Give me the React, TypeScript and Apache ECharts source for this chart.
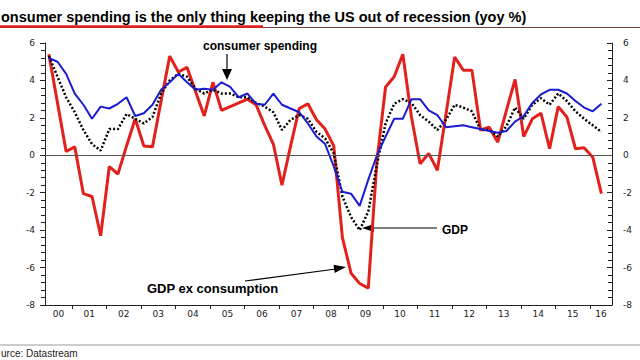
import React, { useEffect, useRef } from 'react';
import * as echarts from 'echarts';

// Quarterly observations (yoy %), first one in Q2 2000
const firstDate = 2000.33;
const quarterStep = 0.25;
const axisStart = 2000.218;
const axisEnd = 2016.637;
const yearTicks = [2001, 2002, 2003, 2004, 2005, 2006, 2007, 2008, 2009, 2010, 2011, 2012, 2013, 2014, 2015, 2016];
const yearLabelYears = [2000, 2001, 2002, 2003, 2004, 2005, 2006, 2007, 2008, 2009, 2010, 2011, 2012, 2013, 2014, 2015, 2016];

const gdpExConsumption = [
  5.4, 2.8, 0.2, 0.45, -2.05, -2.2, -4.3, -0.6, -1.0, 0.5,
  1.95, 0.5, 0.45, 2.9, 5.3, 4.45, 4.7, 3.4, 2.1, 3.9,
  2.4, 2.6, 2.8, 3.0, 2.7, 1.6, 0.6, -1.6, 0.5, 2.5,
  2.75, 1.9, 1.4, 0.5, -4.4, -6.3, -6.85, -7.1, -0.3, 3.65,
  4.2, 5.4, 2.05, -0.45, 0.1, -0.8, 2.2, 5.25, 4.55, 4.55,
  1.35, 1.5, 0.7, 2.4, 4.05, 1.0, 1.95, 2.25, 0.35, 2.6,
  2.05, 0.35, 0.4, -0.1, -2.05,
];

const consumerSpending = [
  5.2, 5.0, 4.35, 3.3, 2.7, 1.95, 2.6, 2.5, 2.75, 3.1,
  2.1, 2.25, 2.7, 3.5, 3.9, 4.35, 3.9, 3.5, 3.55, 3.5,
  3.9, 3.65, 3.1, 3.3, 2.75, 2.7, 3.3, 2.7, 2.5, 2.3,
  1.7, 1.0, 0.6, -0.6, -1.95, -2.05, -2.7, -1.3, 0.0, 1.0,
  1.95, 1.95, 3.0, 3.0, 2.4, 2.15, 1.5, 1.55, 1.6, 1.5,
  1.4, 1.3, 1.2, 1.3, 1.8, 2.1, 2.8, 3.25, 3.5, 3.5,
  3.3, 2.9, 2.55, 2.35, 2.75,
];

const gdp = [
  5.3, 4.2, 3.1, 2.3, 1.35, 0.6, 0.25, 1.4, 1.4, 2.2,
  1.95, 1.7, 2.05, 3.3, 4.0, 4.35, 4.2, 3.55, 3.3, 3.5,
  3.3, 3.3, 3.1, 3.1, 2.8, 2.6, 2.3, 1.35, 1.9, 2.15,
  1.95, 1.25, 0.9, 0.1, -2.2, -3.3, -4.0, -3.0, -0.5, 1.7,
  2.75, 3.0, 2.8, 2.15, 1.8, 1.35, 1.9, 2.7, 2.55, 2.35,
  1.35, 1.35, 1.0, 1.55, 2.55, 1.95, 2.7, 3.05, 2.7, 3.3,
  2.9, 2.35, 1.95, 1.6, 1.25,
];

const titleText = 'onsumer spending is the only thing keeping the US out of recession (yoy %)';
const sourceText = 'urce: Datastream';

const toPairs = (vals: number[]) => vals.map((v, i) => [firstDate + i * quarterStep, v]);

const labelPositions = yearLabelYears.map((y) => {
  const lo = Math.max(y, axisStart);
  const hi = Math.min(y + 1, axisEnd);
  return (lo + hi) / 2;
});

const FONT = '"Liberation Sans", Arial, sans-serif';
const AXFONT = '"DejaVu Sans", sans-serif';

export default function App() {
  const ref = useRef<HTMLDivElement>(null);
  useEffect(() => {
    document.body.style.margin = '0';
    const chart = echarts.init(ref.current!, null, { renderer: 'svg' });
    const yAxisBase = {
      type: 'value',
      min: -8,
      max: 6,
      interval: 2,
      splitLine: { show: false },
      axisLine: { show: true, lineStyle: { color: '#222', width: 1 } },
      axisTick: { show: true, length: 5, lineStyle: { color: '#222' } },
      minorTick: { show: true, splitNumber: 5, length: 4, lineStyle: { color: '#222' } },
      axisLabel: {
        fontFamily: AXFONT,
        fontSize: 9,
        color: '#222',
        padding: [0, 0, 6, 0],
      },
    };
    chart.setOption({
      animation: false,
      backgroundColor: '#fff',
      grid: { left: 45, right: 28, top: 43, bottom: 55, containLabel: false },
      xAxis: {
        type: 'value',
        min: axisStart,
        max: axisEnd,
        splitLine: { show: false },
        axisLine: { show: true, onZero: false, lineStyle: { color: '#222', width: 1 } },
        axisTick: { show: true, length: 4, customValues: yearTicks, lineStyle: { color: '#222' } },
        axisLabel: {
          customValues: labelPositions,
          fontFamily: AXFONT,
          fontSize: 9,
          color: '#222',
          margin: 4,
          formatter: (v: number) => String(Math.floor(v) % 100).padStart(2, '0'),
        },
      },
      yAxis: [
        { ...yAxisBase, position: 'left', axisLabel: { ...yAxisBase.axisLabel, margin: 10 } },
        {
          ...yAxisBase,
          position: 'right',
          axisTick: { ...yAxisBase.axisTick, inside: true },
          axisLabel: { ...yAxisBase.axisLabel, margin: 11 },
        },
      ],
      series: [
        {
          name: 'GDP ex consumption',
          type: 'line',
          data: toPairs(gdpExConsumption),
          showSymbol: false,
          symbol: 'none',
          lineStyle: { color: '#e3211c', width: 3 },
          z: 2,
          markLine: {
            silent: true,
            symbol: 'none',
            label: { show: false },
            lineStyle: { color: '#555', width: 1, type: 'solid' },
            data: [{ yAxis: 0 }],
          },
        },
        {
          name: 'GDP',
          type: 'line',
          data: toPairs(gdp),
          showSymbol: false,
          symbol: 'none',
          lineStyle: { color: '#000', width: 2.5, type: [2, 2] },
          z: 3,
        },
        {
          name: 'consumer spending',
          type: 'line',
          data: toPairs(consumerSpending),
          showSymbol: false,
          symbol: 'none',
          lineStyle: { color: '#1b1bd1', width: 2 },
          z: 4,
        },
      ],
      graphic: [
        {
          type: 'text',
          left: 1,
          top: 9,
          style: { text: titleText, font: `bold 14.5px ${FONT}`, fill: '#000' },
        },
        { type: 'line', shape: { x1: 0, y1: 27.5, x2: 640, y2: 27.5 }, style: { stroke: '#7a4040', lineWidth: 1 } },
        { type: 'line', shape: { x1: 0, y1: 26.5, x2: 263, y2: 26.5 }, style: { stroke: '#e3211c', lineWidth: 2.5 } },
        { type: 'line', shape: { x1: 0, y1: 345, x2: 640, y2: 345 }, style: { stroke: '#999', lineWidth: 1 } },
        {
          type: 'text',
          left: 1,
          top: 348,
          style: { text: sourceText, font: `10px ${FONT}`, fill: '#222' },
        },
        // consumer spending annotation
        {
          type: 'text',
          left: 203,
          top: 40,
          style: { text: 'consumer spending', font: `bold 12px ${FONT}`, fill: '#000' },
        },
        { type: 'line', shape: { x1: 227, y1: 54, x2: 227, y2: 71 }, style: { stroke: '#000', lineWidth: 1.2 } },
        { type: 'polygon', shape: { points: [[222, 69], [232, 69], [227, 80]] }, style: { fill: '#000' } },
        // GDP annotation
        {
          type: 'text',
          left: 442,
          top: 224,
          style: { text: 'GDP', font: `bold 12px ${FONT}`, fill: '#000' },
        },
        { type: 'line', shape: { x1: 437, y1: 228, x2: 372, y2: 228 }, style: { stroke: '#000', lineWidth: 1.2 } },
        { type: 'polygon', shape: { points: [[374, 224], [374, 232], [362, 228]] }, style: { fill: '#000' } },
        // GDP ex consumption annotation
        {
          type: 'text',
          left: 147,
          top: 282,
          style: { text: 'GDP ex consumption', font: `bold 13px ${FONT}`, fill: '#000' },
        },
        { type: 'line', shape: { x1: 245, y1: 281, x2: 336, y2: 269 }, style: { stroke: '#000', lineWidth: 1.2 } },
        { type: 'polygon', shape: { points: [[334.7, 273], [333.5, 264.8], [346, 267]] }, style: { fill: '#000' } },
      ],
    });
    return () => chart.dispose();
  }, []);
  return (
    <div
      ref={ref}
      style={{ width: 640, height: 360, position: 'fixed', left: 0, top: 0, background: '#fff' }}
    />
  );
}
